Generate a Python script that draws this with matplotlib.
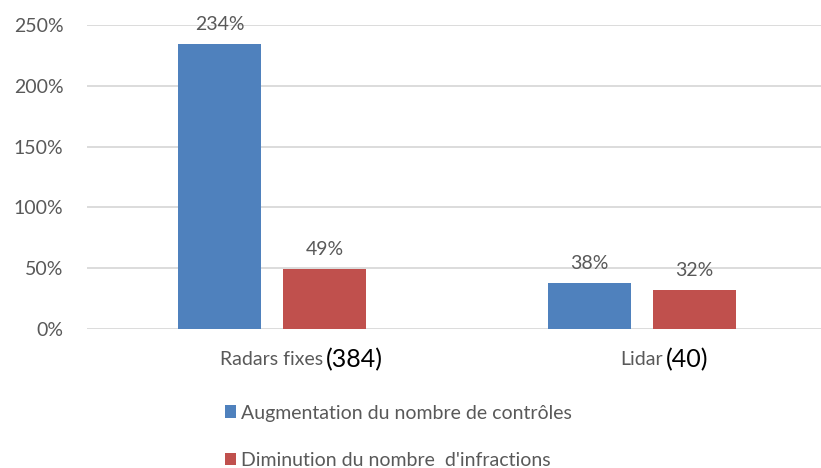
import matplotlib.pyplot as plt
from matplotlib.ticker import FuncFormatter

categories = ["Radars fixes", "Lidar"]
counts = ["(384)", "(40)"]
series_names = ["Augmentation du nombre de contrôles", "Diminution du nombre  d'infractions"]
controles = [234, 38]
infractions = [49, 32]

BLUE = "#4F81BD"
RED = "#C0504D"
GREY = "#595959"

plt.rcParams['font.family'] = ['Lato', 'DejaVu Sans']

fig = plt.figure(figsize=(8.21, 4.68), dpi=100)
ax = fig.add_axes([87 / 821, 139 / 468, 1 - 87 / 821, (329 - 25) / 468])

x = list(range(len(categories)))
w = 0.224
off = 0.142
b1 = ax.bar([i - off for i in x], controles, w, color=BLUE, label=series_names[0], zorder=3)
b2 = ax.bar([i + off for i in x], infractions, w, color=RED, label=series_names[1], zorder=3)

for bars, vals in [(b1, controles), (b2, infractions)]:
    for r, v in zip(bars, vals):
        ax.annotate(f"{v}%", (r.get_x() + r.get_width() / 2, v), xytext=(0, 8),
                    textcoords="offset points", ha="center", va="bottom",
                    fontsize=14, color=GREY)

ax.set_ylim(0, 250)
ax.set_yticks(range(0, 251, 50))
ax.yaxis.set_major_formatter(FuncFormatter(lambda v, p: f"{int(v)}%"))
ax.set_xlim(-0.5, (821 - 272) / 370)
ax.set_xticks(x)
ax.set_xticklabels(categories)
ax.grid(axis="y", color="#D9D9D9", linewidth=1.3, zorder=0)
ax.tick_params(axis="both", length=0, labelsize=14, labelcolor=GREY)
ax.tick_params(axis="y", pad=17)
ax.tick_params(axis="x", pad=16)
for s in ax.spines.values():
    s.set_visible(False)

fig.canvas.draw()
for lab, c in zip(ax.get_xticklabels(), counts):
    ax.annotate(c, xy=(1, 0), xycoords=lab, xytext=(2, -2), textcoords="offset points",
                ha="left", va="bottom", fontsize=18, color="black")

fig.legend(handles=[b1, b2], labels=series_names, loc="upper left",
           bbox_to_anchor=(207 / 821, 1 - 387 / 468), frameon=False,
           handlelength=0.6, handleheight=0.6, handletextpad=0.25,
           labelspacing=1.55, fontsize=14, labelcolor=GREY)

fig.savefig("out.png", dpi=100)
